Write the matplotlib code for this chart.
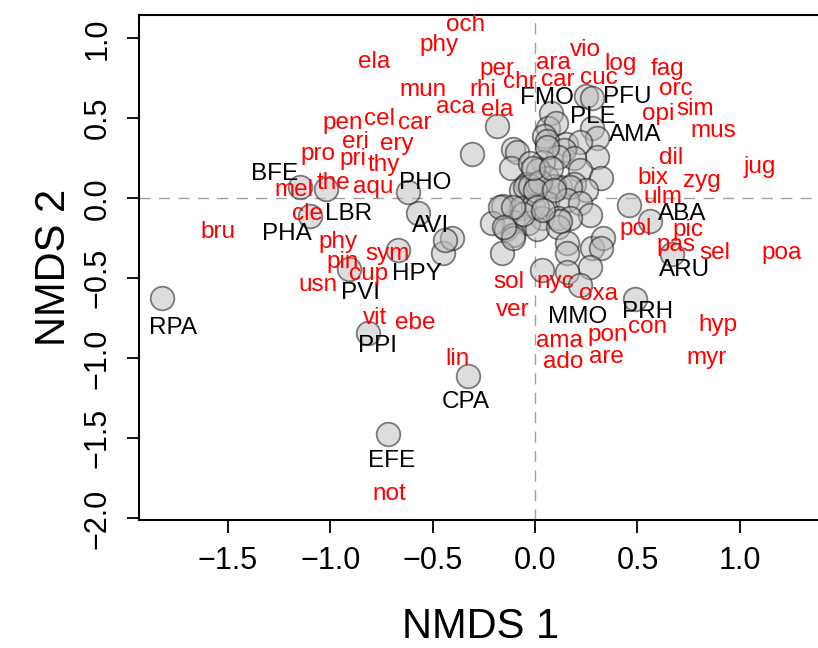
import matplotlib
matplotlib.use("Agg")
import matplotlib.pyplot as plt

plt.rcParams['font.family'] = ['Liberation Sans', 'DejaVu Sans']

# Site scores (NMDS1, NMDS2)
site_x = [-1.82, -0.72, -0.33, -0.815, -0.91, -0.67, -0.45, -0.405, -0.44, -0.57,
          -1.10, -1.15, -1.02, -0.62, -0.31, -0.185, -0.11, -0.09, 0.46, 0.56,
          0.67, 0.49, 0.25, 0.28, 0.08, 0.065, 0.10, 0.045, 0.28, 0.30,
          0.15, 0.06, 0.22, 0.14, 0.30, 0.19, 0.11, 0.04, -0.12, -0.025,
          0.015, 0.22, 0.32, 0.06, -0.04, -0.07, 0.12, 0.19, 0.25, -0.05,
          0.01, 0.09, 0.17, -0.155, -0.07, -0.01, 0.06, 0.155, 0.22, 0.27,
          0.035, 0.11, 0.17, -0.11, -0.035, -0.21, -0.14, 0.01, 0.11, -0.11,
          -0.16, 0.155, 0.155, 0.28, 0.33, 0.32, 0.27, 0.155, 0.035, 0.22,
          -0.025, 0.025, 0.0, 0.06, -0.01, 0.08, 0.09, 0.01, 0.12, -0.06,
          0.04, -0.17, -0.11, -0.11, -0.15]
site_y = [-0.62, -1.47, -1.11, -0.84, -0.44, -0.32, -0.34, -0.25, -0.26, -0.09,
          -0.11, 0.07, 0.06, 0.04, 0.275, 0.45, 0.31, 0.29, -0.04, -0.14,
          -0.35, -0.63, 0.64, 0.625, 0.53, 0.44, 0.47, 0.39, 0.44, 0.375,
          0.34, 0.36, 0.35, 0.30, 0.26, 0.25, 0.26, 0.225, 0.19, 0.22,
          0.175, 0.175, 0.13, 0.13, 0.09, 0.05, 0.07, 0.09, 0.05, 0.07,
          0.09, 0.08, 0.07, -0.045, -0.06, -0.045, -0.03, -0.01, -0.03, -0.105,
          -0.12, -0.12, -0.12, -0.15, -0.155, -0.155, -0.19, -0.19, -0.18, -0.23,
          -0.34, -0.28, -0.34, -0.31, -0.25, -0.31, -0.43, -0.46, -0.45, -0.54,
          0.075, 0.105, 0.05, 0.32, 0.19, 0.19, 0.05, -0.055, -0.14, -0.095,
          -0.075, -0.055, -0.055, -0.25, -0.18]

# Site labels (black)
site_names = ["RPA", "EFE", "CPA", "PPI", "PVI", "HPY", "AVI", "PHA", "LBR", "BFE",
              "PHO", "FMO", "PFU", "PLE", "AMA", "ABA", "ARU", "PRH", "MMO"]
site_lab_x = [-1.77, -0.70, -0.34, -0.77, -0.855, -0.575, -0.51, -1.21, -0.91, -1.27,
              -0.535, 0.06, 0.45, 0.28, 0.49, 0.72, 0.73, 0.55, 0.21]
site_lab_y = [-0.81, -1.64, -1.275, -0.92, -0.59, -0.47, -0.17, -0.225, -0.095, 0.15,
              0.095, 0.625, 0.63, 0.505, 0.395, -0.095, -0.45, -0.71, -0.74]

# Species scores (red labels)
species = ["och", "phy", "ela", "per", "ara", "vio", "log", "fag", "mun", "rhi",
           "chr", "car", "cuc", "orc", "aca", "ela", "opi", "sim", "pen", "cel",
           "car", "mus", "eri", "ery", "pro", "pri", "thy", "dil", "jug", "bix",
           "zyg", "the", "mel", "aqu", "ulm", "cle", "bru", "pol", "pic", "phy",
           "pas", "sel", "poa", "sym", "pin", "cup", "sol", "nyc", "usn", "oxa",
           "ver", "vit", "ebe", "hyp", "con", "pon", "ama", "are", "myr", "lin",
           "ado", "not"]
spec_x = [-0.34, -0.47, -0.785, -0.185, 0.09, 0.245, 0.415, 0.645, -0.545, -0.255,
          -0.075, 0.11, 0.31, 0.685, -0.39, -0.185, 0.60, 0.78, -0.94, -0.76,
          -0.59, 0.87, -0.875, -0.675, -1.06, -0.89, -0.74, 0.665, 1.095, 0.575,
          0.815, -0.985, -1.18, -0.79, 0.625, -1.11, -1.55, 0.49, 0.745, -0.96,
          0.69, 0.88, 1.205, -0.72, -0.94, -0.815, -0.13, 0.10, -1.06, 0.31,
          -0.11, -0.78, -0.585, 0.895, 0.55, 0.355, 0.12, 0.35, 0.835, -0.38,
          0.135, -0.71]
spec_y = [1.08, 0.955, 0.85, 0.81, 0.845, 0.925, 0.84, 0.81, 0.675, 0.675,
          0.725, 0.74, 0.75, 0.68, 0.57, 0.55, 0.525, 0.56, 0.47, 0.495,
          0.47, 0.42, 0.35, 0.34, 0.28, 0.245, 0.21, 0.255, 0.195, 0.125,
          0.11, 0.095, 0.055, 0.07, 0.01, -0.095, -0.21, -0.19, -0.195, -0.275,
          -0.29, -0.34, -0.34, -0.345, -0.40, -0.47, -0.525, -0.525, -0.54, -0.595,
          -0.70, -0.75, -0.78, -0.79, -0.805, -0.855, -0.89, -0.99, -0.995, -1.005,
          -1.025, -1.845]

xticks = [-1.5, -1.0, -0.5, 0.0, 0.5, 1.0]
yticks = [-2.0, -1.5, -1.0, -0.5, 0.0, 0.5, 1.0]

fig = plt.figure(figsize=(8.18, 6.48), dpi=100)
ax = fig.add_axes([0.170, 0.1975, 0.8346, 0.779])
ax.set_xlim(-1.934, 1.40)
ax.set_ylim(-2.01, 1.144)

ax.axhline(0, color='#a0a0a0', lw=1.0, ls=(0, (8, 6)), zorder=1)
ax.axvline(0, color='#a0a0a0', lw=1.0, ls=(0, (8, 6)), zorder=1)

ax.scatter(site_x, site_y, s=290, facecolor=(0.74, 0.74, 0.74, 0.5),
           edgecolor=(0.1, 0.1, 0.1, 0.55), linewidths=1.3, zorder=2)

for n, x, y in zip(site_names, site_lab_x, site_lab_y):
    ax.text(x, y, n, color='black', fontsize=17.5, ha='center', va='center', zorder=3)
for n, x, y in zip(species, spec_x, spec_y):
    ax.text(x, y, n, color='red', fontsize=17.5, ha='center', va='center', zorder=3)

ax.set_xticks(xticks)
ax.set_yticks(yticks)
ax.set_xticklabels([f"{v:.1f}".replace("-", "\u2212") for v in xticks])
ax.set_yticklabels([f"{v:.1f}".replace("-", "\u2212") for v in yticks], rotation=90, va='center')
ax.tick_params(axis='both', labelsize=22, length=9, width=1.3, direction='out')
ax.tick_params(axis='x', pad=10)
ax.tick_params(axis='y', pad=10)
for s in ['left', 'bottom', 'top', 'right']:
    ax.spines[s].set_linewidth(1.5)

ax.set_xlabel("NMDS 1", fontsize=30, labelpad=22)
ax.set_ylabel("NMDS 2", fontsize=30, labelpad=6)

fig.savefig("out.png", dpi=100)
